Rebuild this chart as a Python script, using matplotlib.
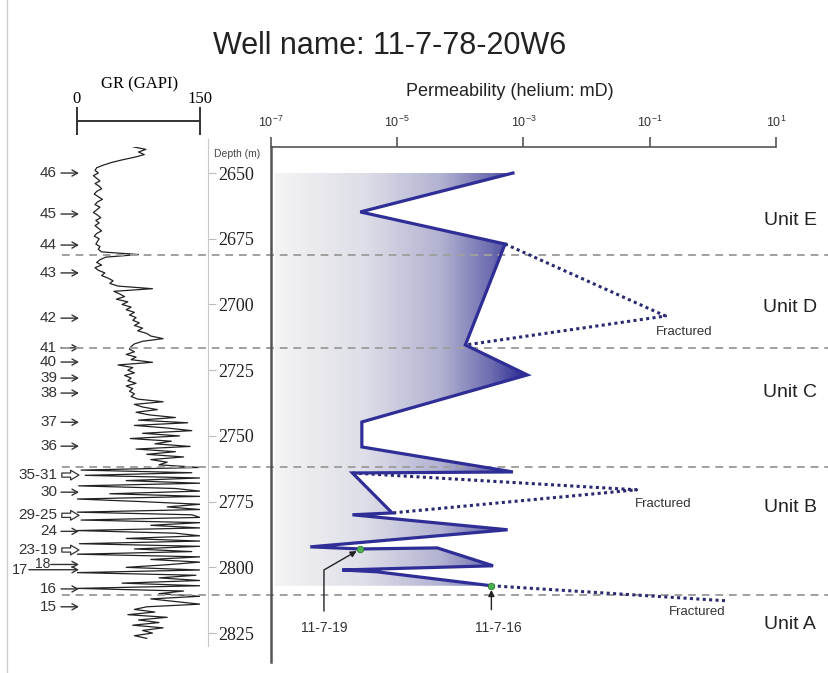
import numpy as np
import matplotlib
matplotlib.use('Agg')
import matplotlib.pyplot as plt
import matplotlib.transforms as mtransforms
from matplotlib.colors import LinearSegmentedColormap
from matplotlib.patches import Polygon
from matplotlib.lines import Line2D

plt.rcParams['font.family'] = ['Liberation Sans', 'DejaVu Sans']
plt.rcParams['mathtext.fontset'] = 'custom'
plt.rcParams['mathtext.rm'] = 'Liberation Sans'
plt.rcParams['mathtext.it'] = 'Liberation Sans:italic'

# ---- 数据 ----
# 渗透率曲线 (深度 m, 渗透率 mD)
perm_depth = [2650, 2664.8, 2677, 2715.4, 2726.8, 2744.7, 2754.2, 2763.7, 2764.1,
              2779.3, 2780, 2785.7, 2792.2, 2793, 2792.6, 2799.4, 2801, 2801.7, 2807]
perm_k = [6.8e-4, 2.6e-6, 5.1e-4, 1.2e-4, 1.15e-3, 2.75e-6, 2.75e-6, 6.8e-4, 1.95e-6,
          8.3e-6, 1.95e-6, 5.6e-4, 4.2e-7, 2.6e-6, 4.3e-5, 3.3e-4, 1.35e-6, 4.8e-6, 3.1e-4]

# 裂缝样品 (虚线)
frac_d_depth = [2677, 2704.4, 2715.4]
frac_d_k = [5.1e-4, 0.178, 1.2e-4]
frac_b_depth = [2764.1, 2770.5, 2779.3]
frac_b_k = [1.95e-6, 0.062, 8.3e-6]
frac_a_depth = [2807, 2812.7]
frac_a_k = [3.1e-4, 1.58]
frac_label_depth = [2710.5, 2775.9, 2816.9]
frac_label_k = [0.126, 0.058, 0.2]

# 样品点
sample_names = ['11-7-19', '11-7-16']
sample_depth = [2793, 2807]
sample_k = [2.6e-6, 3.1e-4]

# 单元
unit_bounds = [2681.3, 2716.4, 2761.8, 2810.7]
unit_names = ['Unit E', 'Unit D', 'Unit C', 'Unit B', 'Unit A']
unit_depth = [2667.9, 2701, 2733.3, 2777.4, 2821.9]

# 层号
bed_names = ['46', '45', '44', '43', '42', '41', '40', '39', '38', '37', '36',
             '35-31', '30', '29-25', '24', '23-19', '18', '17', '16', '15']
bed_depth = [2650, 2665.6, 2677.4, 2688, 2705.2, 2716.5, 2721.9, 2728, 2733.7, 2744.8,
             2753.9, 2764.9, 2771.4, 2780.2, 2786.3, 2793.4, 2798.9, 2800.9, 2808.2, 2815]

# GR 曲线, 1 m 采样, 从 2634 m 开始
gr_top = 2634
gr_values = [
    70, 85, 66, 80, 72, 88, 68, 84, 75, 82,
    70, 55, 42, 32, 24,
    22, 26, 20, 24, 28, 22, 27, 30, 24, 21, 26, 31, 25, 22, 28, 24,
    20, 25, 29, 23, 27, 22, 26, 30, 24, 21, 27, 25, 23, 28, 26, 30,
    75, 35,
    28, 24, 30, 22, 26, 34, 30, 38, 44, 40, 50,
    92, 45,
    52, 58, 48, 62, 55, 66, 60, 70, 64, 72, 68,
    76, 70, 80, 74, 85, 90, 105,
    80, 70, 66,
    64, 70, 60, 72, 66, 92, 50, 68, 62, 70, 58, 66, 62, 72, 60, 68, 64, 70, 66, 74,
    105, 70, 80, 98, 72, 88,
    120, 75, 135, 70, 110, 140, 80, 125, 65, 115, 95, 138, 72, 120, 85, 130, 90, 110, 100,
    150, 5, 140, 10, 150, 60, 150, 2, 120, 150, 40, 150, 0, 80, 150, 110, 150, 0, 140, 150,
    5, 150, 90, 150, 0, 120, 150, 60, 150, 3, 150, 70, 140, 0, 150, 90, 150, 110, 60, 150,
    0, 145, 100, 150, 55, 150, 0,
    130, 100, 150, 90, 120, 150, 85,
    70, 95, 62, 110, 75, 100, 68, 105, 80, 92, 70, 85,
]
gr_depth = gr_top + np.arange(len(gr_values))

depth_ticks = [2650, 2675, 2700, 2725, 2750, 2775, 2800, 2825]
perm_ticks = [1e-7, 1e-5, 1e-3, 1e-1, 1e1]
perm_tick_labels = [r'$10^{-7}$', r'$10^{-5}$', r'$10^{-3}$', r'$10^{-1}$', r'$10^{1}$']

W, H = 829, 673
top_depth, bot_depth = 2640.1, 2836

fig = plt.figure(figsize=(W / 100, H / 100), dpi=100)

def fx(px):
    return px / W

def fy(py):
    return 1 - py / H

ax_top, ax_bot = 147, 662

# ---- GR 道 ----
ax_gr = fig.add_axes([fx(77), fy(ax_bot), fx(200) - fx(77), fy(ax_top) - fy(ax_bot)])
ax_gr.patch.set_alpha(0)
ax_gr.plot(gr_values, gr_depth, color='#222222', lw=0.9)
ax_gr.set_xlim(0, 150)
ax_gr.set_ylim(bot_depth, top_depth)
for s in ['left', 'bottom']:
    ax_gr.spines[s].set_visible(False)
ax_gr.spines['top'].set_position(('outward', 19))
ax_gr.spines['top'].set_color('#333333')
ax_gr.spines['top'].set_linewidth(1.4)
ax_gr.xaxis.tick_top()
ax_gr.set_xticks([0, 150])
ax_gr.tick_params(axis='x', direction='inout', length=20, width=1.4, color='#333333',
                  pad=0, labelsize=12)
for lbl in ax_gr.get_xticklabels():
    lbl.set_fontfamily('Liberation Serif')

ax_gr.spines['right'].set_position(('outward', 6))
ax_gr.spines['right'].set_bounds(2637, 2830)
ax_gr.spines['right'].set_color('#c8c8c8')
ax_gr.yaxis.tick_right()
ax_gr.set_yticks(depth_ticks)
ax_gr.tick_params(axis='y', length=6, color='#bbbbbb', labelsize=13, pad=1, labelcolor='#222222')
for lbl in ax_gr.get_yticklabels():
    lbl.set_fontfamily('Liberation Serif')

fig.text(fx(140), fy(84), 'GR (GAPI)', ha='center', va='center', fontsize=12,
         family='Liberation Serif')
fig.text(fx(237), fy(154), 'Depth (m)', ha='center', va='center', fontsize=7.5, color='#444444')

# 层号箭头
lbl_x = {'18': -33, '17': -60}
arr_x = {'18': -32, '17': -58.6}
lbl_size = {'18': 10, '17': 10.5}
for name, d in zip(bed_names, bed_depth):
    tx = lbl_x.get(name, -24.4)
    ax0 = arr_x.get(name, -19.5)
    ax_gr.text(tx, d, name, ha='right', va='center', fontsize=lbl_size.get(name, 11),
               color='#333333', clip_on=False)
    if '-' in name:
        ax_gr.annotate('', xy=(2.4, d), xytext=(ax0 + 1, d), annotation_clip=False,
                       arrowprops=dict(arrowstyle='simple,head_length=0.6,head_width=0.7,tail_width=0.3',
                                       fc='white', ec='#333333', lw=0.9, shrinkA=0, shrinkB=0))
    else:
        ax_gr.annotate('', xy=(2.4, d), xytext=(ax0, d), annotation_clip=False,
                       arrowprops=dict(arrowstyle='->,head_length=0.4,head_width=0.22',
                                       color='#333333', lw=1, shrinkA=0, shrinkB=0))

# ---- 渗透率道 ----
ax_k = fig.add_axes([fx(271), fy(ax_bot), fx(776) - fx(271), fy(ax_top) - fy(ax_bot)])
ax_k.patch.set_alpha(0)
ax_k.set_xscale('log')

# 渐变填充
cmap = LinearSegmentedColormap.from_list('grad', [
    (0.0, '#f4f4f4'), (0.35, '#dedee8'), (0.65, '#b2b2d2'),
    (0.85, '#6c6cb0'), (1.0, '#22228c')])
xs = np.linspace(0, 1, 600)
g = np.clip((xs - 0.008) / 0.505, 0, 1)
im = ax_k.imshow(g[np.newaxis, :], extent=[0, 1, 0, 1], transform=ax_k.transAxes,
                 cmap=cmap, aspect='auto', zorder=1, interpolation='bilinear')
k_left = 1.15e-7
verts = [(k_left, perm_depth[0])] + list(zip(perm_k, perm_depth)) + [(k_left, perm_depth[-1])]
poly = Polygon(verts, closed=True, transform=ax_k.transData)
im.set_clip_path(poly)

ax_k.plot(perm_k, perm_depth, color='#2e2e96', lw=2.3, solid_joinstyle='miter', zorder=4)
for kk, dd in [(frac_d_k, frac_d_depth), (frac_b_k, frac_b_depth), (frac_a_k, frac_a_depth)]:
    ax_k.plot(kk, dd, color='#2a2a70', lw=2.2, ls=(0, (1, 1.1)), zorder=3)
for kk, dd in zip(frac_label_k, frac_label_depth):
    ax_k.text(kk, dd, 'Fractured', ha='left', va='center', fontsize=9.5, color='#333333')

ax_k.scatter(sample_k, sample_depth, s=22, color='#4caf50', edgecolor='#2e7d32', lw=0.6, zorder=5)
ax_k.annotate(sample_names[0], xy=(sample_k[0], sample_depth[0]), xytext=(6.9e-7, 2823),
              ha='center', va='center', fontsize=10, color='#333333',
              arrowprops=dict(arrowstyle='-|>', color='#222222', lw=1, mutation_scale=9,
                              connectionstyle='angle,angleA=90,angleB=30,rad=0',
                              relpos=(0.5, 1), shrinkA=5, shrinkB=3))
ax_k.annotate(sample_names[1], xy=(sample_k[1], sample_depth[1]), xytext=(4.0e-4, 2823),
              ha='center', va='center', fontsize=10, color='#333333',
              arrowprops=dict(arrowstyle='-|>', color='#222222', lw=1, mutation_scale=9,
                              relpos=(0.35, 1), shrinkA=6, shrinkB=3))

# 单元分界
for d in unit_bounds:
    ax_k.axhline(d, xmin=-0.414, xmax=1.11, ls=(0, (4, 3)), color='#a0a0a0', lw=1.4,
                 clip_on=False, zorder=2)
trans = mtransforms.blended_transform_factory(ax_k.transAxes, ax_k.transData)
for name, d in zip(unit_names, unit_depth):
    ax_k.text(1.028, d, name, transform=trans, ha='center', va='center', fontsize=14,
              color='#222222', clip_on=False)

ax_k.set_xlim(1e-7, 1e1)
ax_k.set_ylim(bot_depth, top_depth)
ax_k.spines['right'].set_visible(False)
ax_k.spines['bottom'].set_visible(False)
ax_k.spines['left'].set_color('#555555')
ax_k.spines['left'].set_linewidth(1.8)
ax_k.spines['top'].set_color('#555555')
ax_k.spines['top'].set_linewidth(1.2)
ax_k.xaxis.tick_top()
ax_k.set_xticks(perm_ticks)
ax_k.set_xticklabels(perm_tick_labels)
ax_k.xaxis.set_minor_locator(matplotlib.ticker.NullLocator())
ax_k.tick_params(axis='x', length=7, width=1.2, color='#555555', labelsize=9, pad=5,
                 labelcolor='#333333')
ax_k.set_yticks([])

fig.text(fx(510), fy(92), 'Permeability (helium: mD)', ha='center', va='center', fontsize=13,
         color='#222222')
fig.text(fx(390), fy(46), 'Well name: 11-7-78-20W6', ha='center', va='center', fontsize=22,
         color='#222222')

# 左侧边框线
fig.add_artist(Line2D([fx(7.5), fx(7.5)], [0, 1], color='#cccccc', lw=1))

fig.savefig('out.png', dpi=100)
